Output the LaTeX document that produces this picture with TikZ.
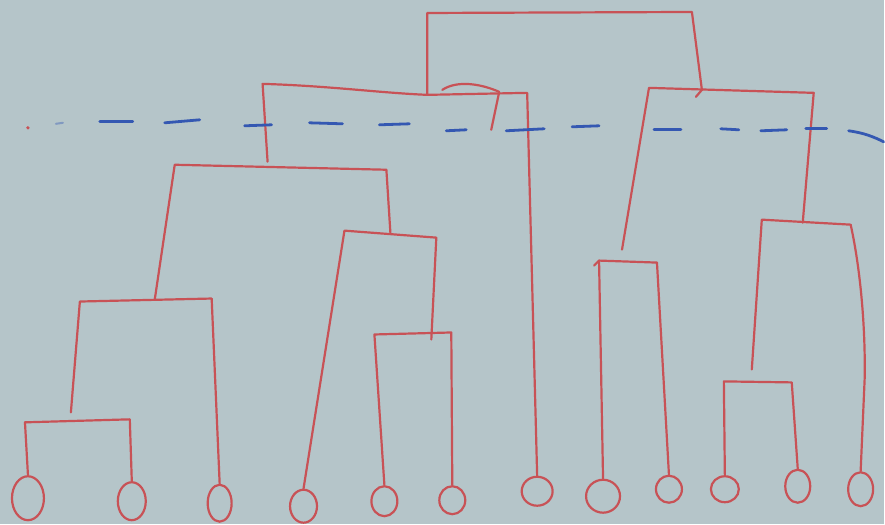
\documentclass[tikz,border=0pt]{standalone}
\usetikzlibrary{shapes.geometric}
\definecolor{paper}{RGB}{181,197,201}
\definecolor{redpen}{RGB}{200,82,86}
\definecolor{bluepen}{RGB}{52,88,178}
\tikzset{
  pen/.style={draw=redpen, line width=2.2pt, line cap=round, line join=round},
  leaf/.style={ellipse, draw=redpen, line width=2.2pt, inner sep=0pt},
  dashseg/.style={draw=bluepen, line width=2.8pt, line cap=round},
  faintseg/.style={draw=bluepen!40!paper, line width=2pt, line cap=round},
}
\begin{document}
\begin{tikzpicture}[x=1pt,y=-1pt]
\fill[paper] (0,0) rectangle (885,525);
% leaves
\node[leaf, minimum width=32pt, minimum height=44pt] (L1) at (28,499) {};
\node[leaf, minimum width=28pt, minimum height=38pt] (L2) at (132,502) {};
\node[leaf, minimum width=24pt, minimum height=37pt] (L3) at (220,504) {};
\node[leaf, minimum width=27pt, minimum height=33pt] (L4) at (304,507) {};
\node[leaf, minimum width=26pt, minimum height=30pt] (L5) at (385,502) {};
\node[leaf, minimum width=26pt, minimum height=28pt] (L6) at (453,501) {};
\node[leaf, minimum width=31pt, minimum height=29pt] (L7) at (538,492) {};
\node[leaf, minimum width=34pt, minimum height=33pt] (L8) at (604,497) {};
\node[leaf, minimum width=26pt, minimum height=27pt] (L9) at (670,490) {};
\node[leaf, minimum width=28pt, minimum height=26pt] (L10) at (726,490) {};
\node[leaf, minimum width=25pt, minimum height=33pt] (L11) at (799,487) {};
\node[leaf, minimum width=25pt, minimum height=34pt] (L12) at (862,490) {};
% bracket corners
\coordinate (a1) at (25,423); \coordinate (a2) at (130,420);
\coordinate (bEnd) at (71,413); \coordinate (b1) at (80,302); \coordinate (b2) at (212,299);
\coordinate (cL) at (155,300); \coordinate (c1) at (175,165); \coordinate (c2) at (387,170); \coordinate (cEnd) at (391,233);
\coordinate (d1) at (345,231); \coordinate (d2) at (437,238); \coordinate (dEnd) at (432,340);
\coordinate (e1) at (375,335); \coordinate (e2) at (452,333);
\coordinate (cTop) at (268,162); \coordinate (f1) at (263,84); \coordinate (fm) at (428,95); \coordinate (f2) at (528,93);
\coordinate (s1) at (443,90); \coordinate (s2) at (500,92); \coordinate (s3) at (492,130);
\coordinate (g1) at (428,13); \coordinate (g2) at (693,12); \coordinate (g3) at (703,90); \coordinate (g4) at (697,97);
\coordinate (hEnd) at (623,250); \coordinate (h1) at (650,88); \coordinate (h2) at (815,93); \coordinate (jTop) at (804,223);
\coordinate (i0) at (595,266); \coordinate (i1) at (600,261); \coordinate (i2) at (658,263);
\coordinate (jEnd) at (753,370); \coordinate (j1) at (763,220); \coordinate (j2) at (852,225); \coordinate (jm) at (866,380);
\coordinate (k1) at (725,382); \coordinate (k2) at (793,383);
% dendrogram
\draw[pen] (L1.north) -- (a1) -- (a2) -- (L2.north);
\draw[pen] (bEnd) -- (b1) -- (b2) -- (L3.north);
\draw[pen] (cL) -- (c1) -- (c2) -- (cEnd);
\draw[pen] (L4.north) -- (d1) -- (d2) -- (dEnd);
\draw[pen] (L5.north) -- (e1) -- (e2) -- (L6.north);
\draw[pen] (cTop) -- (f1) .. controls (330,86) and (380,93) .. (fm) -- (f2) -- (L7.north);
\draw[pen] (s1) .. controls (458,80) and (482,84) .. (s2) -- (s3);
\draw[pen] (fm) -- (g1) -- (g2) -- (g3) -- (g4);
\draw[pen] (hEnd) -- (h1) -- (h2) -- (jTop);
\draw[pen] (i0) -- (i1) -- (i2) -- (L9.north);
\draw[pen] (i1) -- (L8.north);
\draw[pen] (jEnd) -- (j1) -- (j2) .. controls (862,270) and (867,330) .. (jm) -- (L12.north);
\draw[pen] (L10.north) -- (k1) -- (k2) -- (L11.north);
% cut line
\fill[redpen] (28,128) circle (1.8pt);
\draw[faintseg] (56,124) -- (63,123);
\draw[dashseg] (100,122) -- (133,122);
\draw[dashseg] (165,123) -- (200,120);
\draw[dashseg] (245,126) -- (272,125);
\draw[dashseg] (310,123) -- (343,124);
\draw[dashseg] (380,125) -- (410,124);
\draw[dashseg] (447,131) -- (467,130);
\draw[dashseg] (507,131) -- (545,129);
\draw[dashseg] (573,127) -- (600,126);
\draw[dashseg] (655,130) -- (682,130);
\draw[dashseg] (722,129) -- (740,130);
\draw[dashseg] (762,131) -- (788,130);
\draw[dashseg] (807,129) -- (828,129);
\draw[dashseg] (850,131) .. controls (865,133) and (875,137) .. (885,142);
\end{tikzpicture}
\end{document}
